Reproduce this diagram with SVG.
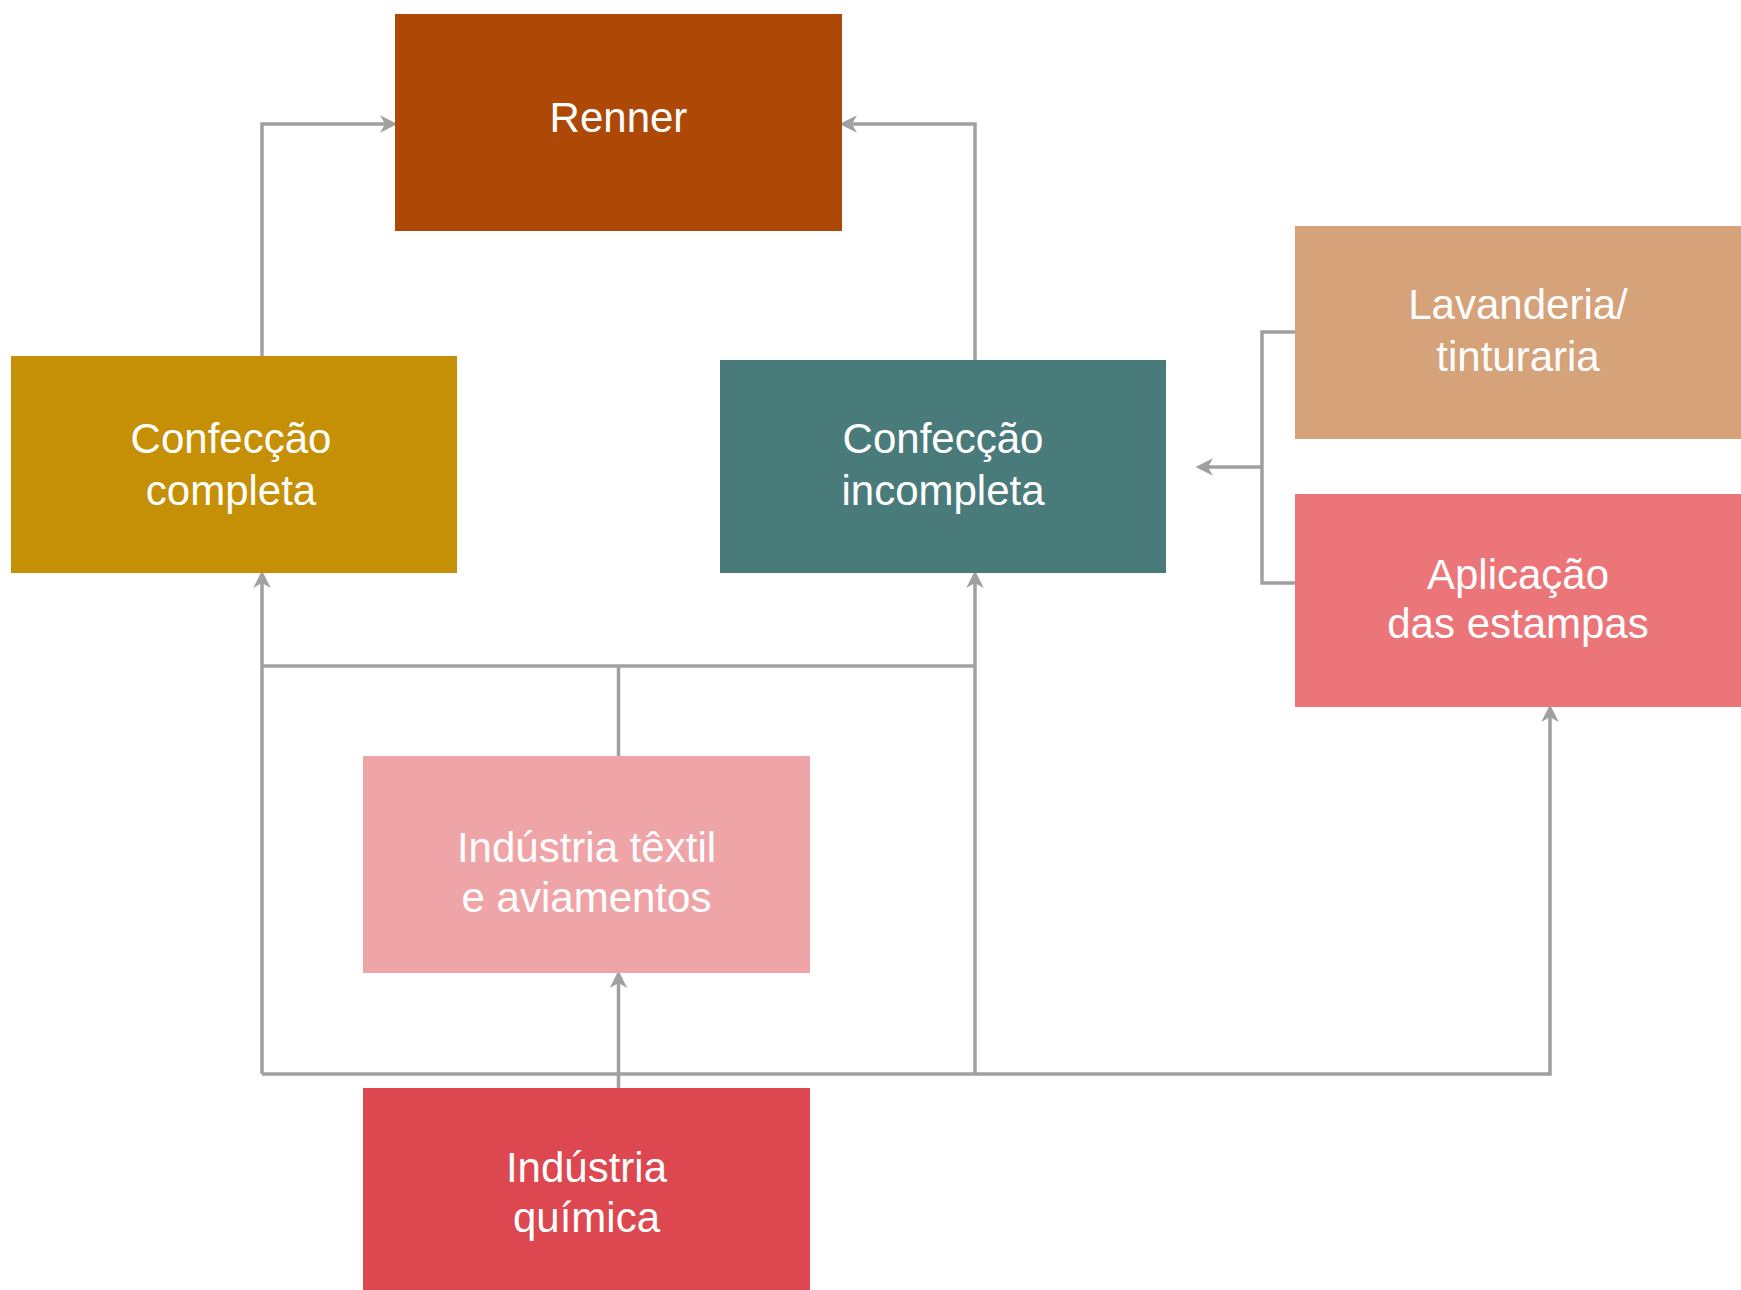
<svg xmlns="http://www.w3.org/2000/svg" width="1741" height="1290" viewBox="0 0 1741 1290">
<style>
.lbl{font-family:"Liberation Sans",Arial,sans-serif;font-size:42px;fill:#ffffff;text-anchor:middle}
.con{fill:none;stroke:#a0a0a0;stroke-width:3.5;stroke-linejoin:miter}
</style>
<defs>
<marker id="arr" markerUnits="userSpaceOnUse" markerWidth="20" markerHeight="20" refX="4" refY="0" orient="auto" viewBox="0 -8 16 16" overflow="visible">
<path d="M14,0 L0,-7 L4,0 L0,7 Z" fill="#a0a0a0"/>
</marker>
</defs>
<rect width="1741" height="1290" fill="#ffffff"/>
<g id="connectors">
<path class="con" d="M262,356 V124 H385" marker-end="url(#arr)"/>
<path class="con" d="M975,360 V124 H852" marker-end="url(#arr)"/>
<path class="con" d="M1295,332 H1262 V583 H1295"/>
<path class="con" d="M1262,467 H1208" marker-end="url(#arr)"/>
<path class="con" d="M618.5,756 V666"/>
<path class="con" d="M262,666 H975"/>
<path class="con" d="M618.5,1088 V983" marker-end="url(#arr)"/>
<path class="con" d="M262,1074 V583" marker-end="url(#arr)"/>
<path class="con" d="M975,1074 V583" marker-end="url(#arr)"/>
<path class="con" d="M262,1074 H1550 V717" marker-end="url(#arr)"/>
</g>
<g id="renner">
<rect x="395" y="14" width="447" height="217" fill="#ad4807"/>
<text class="lbl" x="618.5" y="132">Renner</text>
</g>
<g id="confeccao-completa">
<rect x="11" y="356" width="446" height="217" fill="#c69006"/>
<text class="lbl" x="231" y="453">Confecção</text>
<text class="lbl" x="231" y="505">completa</text>
</g>
<g id="confeccao-incompleta">
<rect x="720" y="360" width="446" height="213" fill="#4a7b7b"/>
<text class="lbl" x="943" y="453">Confecção</text>
<text class="lbl" x="943" y="505">incompleta</text>
</g>
<g id="lavanderia">
<rect x="1295" y="226" width="446" height="213" fill="#d6a27a"/>
<text class="lbl" x="1518" y="319">Lavanderia/</text>
<text class="lbl" x="1518" y="371">tinturaria</text>
</g>
<g id="aplicacao">
<rect x="1295" y="494" width="446" height="213" fill="#eb7579"/>
<text class="lbl" x="1518" y="589">Aplicação</text>
<text class="lbl" x="1518" y="638">das estampas</text>
</g>
<g id="industria-textil">
<rect x="363" y="756" width="447" height="217" fill="#efa5a7"/>
<text class="lbl" x="586.5" y="862">Indústria têxtil</text>
<text class="lbl" x="586.5" y="912">e aviamentos</text>
</g>
<g id="industria-quimica">
<rect x="363" y="1088" width="447" height="202" fill="#dd474f"/>
<text class="lbl" x="586.5" y="1182">Indústria</text>
<text class="lbl" x="586.5" y="1232">química</text>
</g>
</svg>
